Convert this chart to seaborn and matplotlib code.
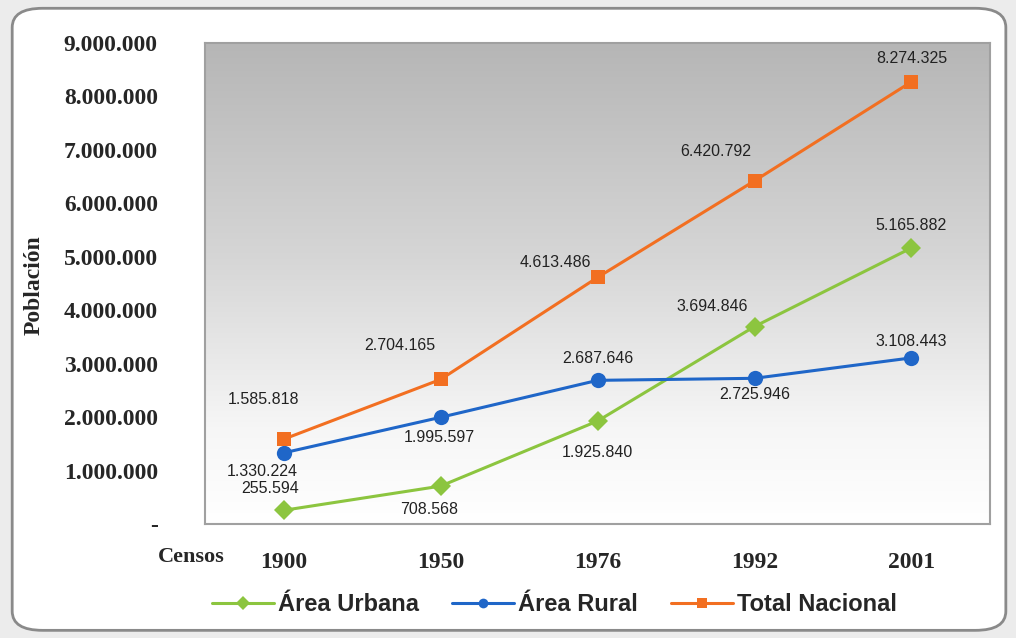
import numpy as np
import pandas as pd
import matplotlib.pyplot as plt
import seaborn as sns
from matplotlib import font_manager
from matplotlib.colors import LinearSegmentedColormap
from matplotlib.patches import FancyBboxPatch
from matplotlib.lines import Line2D

# Census data
censos = ['1900', '1950', '1976', '1992', '2001']
urbana = [255594, 708568, 1925840, 3694846, 5165882]
rural = [1330224, 1995597, 2687646, 2725946, 3108443]
total = [1585818, 2704165, 4613486, 6420792, 8274325]
y_ticks = [0, 1000000, 2000000, 3000000, 4000000, 5000000, 6000000, 7000000, 8000000, 9000000]
y_tick_labels = ['-', '1.000.000', '2.000.000', '3.000.000', '4.000.000', '5.000.000',
                 '6.000.000', '7.000.000', '8.000.000', '9.000.000']

sns.set_theme(style='white')
names = {f.name for f in font_manager.fontManager.ttflist}
narrow = 'Liberation Sans Narrow' if 'Liberation Sans Narrow' in names else 'Liberation Sans'
plt.rcParams['font.family'] = ['Liberation Sans', 'DejaVu Sans']

df = pd.DataFrame({'Censo': censos * 3,
                   'Poblacion': urbana + rural + total,
                   'Serie': ['Área Urbana'] * 5 + ['Área Rural'] * 5 + ['Total Nacional'] * 5})

colors = {'Área Urbana': '#8cc53f', 'Área Rural': '#1f66c8', 'Total Nacional': '#f26f21'}
markers = {'Área Urbana': 'D', 'Área Rural': 'o', 'Total Nacional': 's'}

fig = plt.figure(figsize=(10.16, 6.38), dpi=100)
fig.patch.set_facecolor('#ececec')
box = FancyBboxPatch((0.012, 0.012), 0.978, 0.975, boxstyle='round,pad=0,rounding_size=0.03',
                     transform=fig.transFigure, facecolor='white', edgecolor='#8a8a8a',
                     linewidth=2.0, zorder=-10)
fig.patches.append(box)

ax = fig.add_axes([0.2018, 0.1787, 0.7726, 0.7539])
ax.set_facecolor('none')

# gray gradient background, dark at the top
grad = np.linspace(0, 1, 256).reshape(-1, 1)
cmap = LinearSegmentedColormap.from_list(
    'g', [(0, '#b6b6b6'), (0.45, '#d6d6d6'), (0.8, '#f6f6f6'), (1, '#ffffff')])
ax.imshow(grad, extent=[-0.5, 4.5, 0, 9000000], aspect='auto', origin='upper',
          cmap=cmap, zorder=0)

for serie in ['Área Urbana', 'Área Rural', 'Total Nacional']:
    sub = df[df['Serie'] == serie]
    ms = 11 if markers[serie] == 'o' else 10.5
    sns.lineplot(data=sub, x='Censo', y='Poblacion', ax=ax, color=colors[serie],
                 marker=markers[serie], markersize=ms, markeredgewidth=0, linewidth=2.2,
                 legend=False, zorder=3)

def fmt(v):
    return f'{v:,}'.replace(',', '.')

# label offsets in pixels
offs = {
    'Total Nacional': [(-20, 40), (-41, 34), (-42, 15), (-39, 29), (0, 23)],
    'Área Rural': [(-21, -19), (-1, -20), (0, 22), (0, -16), (0, 16)],
    'Área Urbana': [(-13, 22), (-11, -23), (0, -31), (-42, 20), (0, 22)],
}
series = {'Área Urbana': urbana, 'Área Rural': rural, 'Total Nacional': total}
for serie, vals in series.items():
    for i, v in enumerate(vals):
        dx, dy = offs[serie][i]
        ax.annotate(fmt(v), (i, v), xytext=(dx, dy), textcoords='offset pixels',
                    ha='center', va='center', fontsize=11.5, color='#222222', zorder=5)

ax.set_xlim(-0.5, 4.5)
ax.set_ylim(0, 9000000)
ax.set_yticks(y_ticks)
ax.set_yticklabels(y_tick_labels, family='Liberation Serif', fontweight='bold', fontsize=17)
ax.set_xticks(range(len(censos)))
ax.set_xticklabels(censos, family='Liberation Serif', fontweight='bold', fontsize=17)
ax.tick_params(axis='y', length=0, pad=34)
ax.tick_params(axis='x', length=0, pad=20)
ax.set_xlabel('')
ax.set_ylabel('')
for s in ax.spines.values():
    s.set_color('#a0a0a0')
    s.set_linewidth(1.5)
    s.set_visible(True)

fig.text(0.034, 0.553, 'Población', rotation=90, ha='center', va='center',
         family='Liberation Serif', fontweight='bold', fontsize=17)
fig.text(0.188, 0.127, 'Censos', ha='center', va='center',
         family='Liberation Serif', fontweight='bold', fontsize=16)

handles = [Line2D([], [], color=colors[s], marker=markers[s], markersize=7, markeredgewidth=0,
                  linewidth=2.2) for s in series]
fig.legend(handles, list(series.keys()), loc='center', bbox_to_anchor=(0.546, 0.052), ncol=3,
           frameon=False, handlelength=2.6, handletextpad=0.2, columnspacing=1.4,
           prop={'family': narrow, 'weight': 'bold', 'size': 17})

fig.savefig('out.png', dpi=100, facecolor=fig.get_facecolor())
